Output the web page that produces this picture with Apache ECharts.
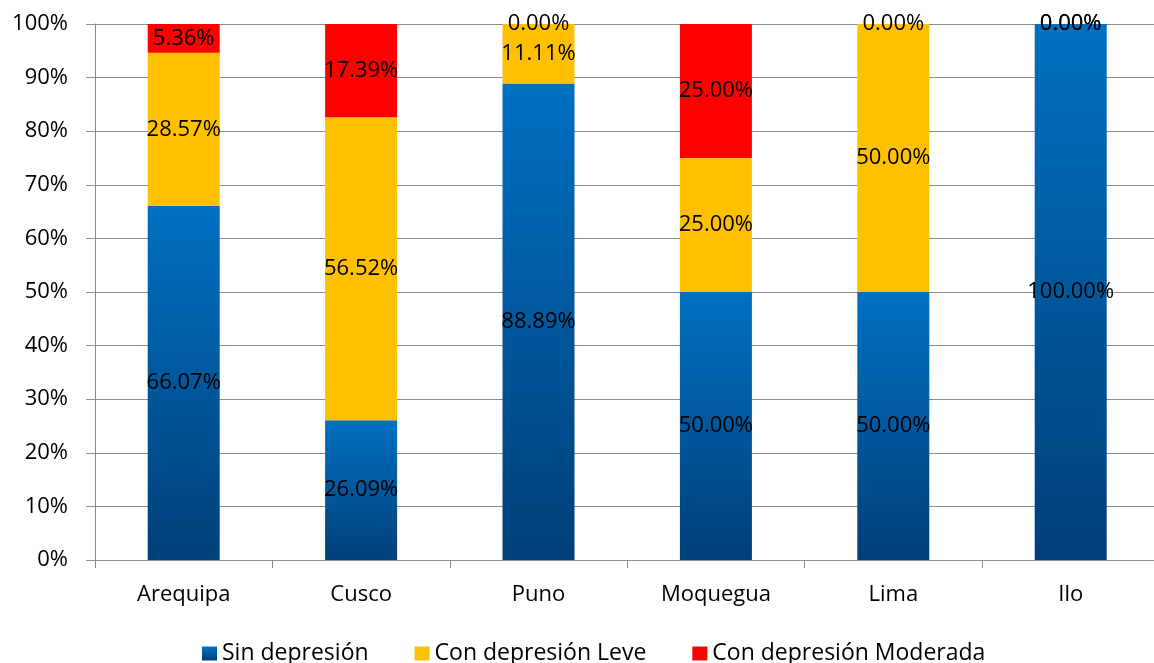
<!DOCTYPE html>
<html>
<head>
<meta charset="utf-8">
<script src="https://cdn.jsdelivr.net/npm/echarts@6/dist/echarts.min.js"></script>
<style>
html,body{margin:0;padding:0;background:#fff;}
#chart{width:1154px;height:663px;}
</style>
</head>
<body>
<div id="chart"></div>
<script>
const categories = ['Arequipa', 'Cusco', 'Puno', 'Moquegua', 'Lima', 'Ilo'];
const sinDepresion = [66.07, 26.09, 88.89, 50.00, 50.00, 100.00];
const conLeve = [28.57, 56.52, 11.11, 25.00, 50.00, 0.00];
const conModerada = [5.36, 17.39, 0.00, 25.00, 0.00, 0.00];
const seriesNames = ['Sin depresión', 'Con depresión Leve', 'Con depresión Moderada'];
const yTicks = [0, 10, 20, 30, 40, 50, 60, 70, 80, 90, 100];

const FONT = '"Open Sans", "Liberation Sans", sans-serif';
const chart = echarts.init(document.getElementById('chart'));

const labelCfg = {
  show: true,
  position: 'inside',
  color: '#000',
  fontFamily: FONT,
  fontSize: 22,
  formatter: p => p.value.toFixed(2) + '%'
};

const blueGrad = new echarts.graphic.LinearGradient(0, 0, 0, 1, [
  { offset: 0, color: '#0070C2' },
  { offset: 1, color: '#003F78' }
]);

chart.setOption({
  animation: false,
  backgroundColor: '#fff',
  grid: { left: 95, width: 1064.4, top: 24, bottom: 103, containLabel: false, outerBoundsMode: 'none' },
  legend: {
    data: seriesNames,
    bottom: -2,
    left: 202,
    padding: 0,
    itemWidth: 15,
    itemHeight: 14,
    itemGap: 46,
    icon: 'rect',
    textStyle: { fontFamily: FONT, fontSize: 23, color: '#000' }
  },
  xAxis: {
    type: 'category',
    data: categories,
    axisLine: { show: true, lineStyle: { color: '#8c8c8c', width: 1 } },
    axisTick: { show: true, length: 8, alignWithLabel: false, lineStyle: { color: '#8c8c8c' } },
    axisLabel: { color: '#000', fontFamily: FONT, fontSize: 22, margin: 24 }
  },
  yAxis: {
    type: 'value',
    min: yTicks[0],
    max: yTicks[yTicks.length - 1],
    interval: 10,
    axisLine: { show: true, lineStyle: { color: '#8c8c8c', width: 1 } },
    axisTick: { show: true, length: 9, lineStyle: { color: '#8c8c8c' } },
    axisLabel: { color: '#000', fontFamily: FONT, fontSize: 22, margin: 27, formatter: '{value}%' },
    splitLine: { show: true, lineStyle: { color: '#8c8c8c', width: 1 } }
  },
  series: [
    {
      name: seriesNames[0], type: 'bar', stack: 'total', barWidth: 72,
      data: sinDepresion,
      itemStyle: { color: blueGrad },
      label: labelCfg
    },
    {
      name: seriesNames[1], type: 'bar', stack: 'total', barWidth: 72,
      data: conLeve,
      itemStyle: { color: '#FFC000' },
      label: labelCfg
    },
    {
      name: seriesNames[2], type: 'bar', stack: 'total', barWidth: 72,
      data: conModerada,
      itemStyle: { color: '#FF0000' },
      label: labelCfg
    }
  ]
});
</script>
</body>
</html>
